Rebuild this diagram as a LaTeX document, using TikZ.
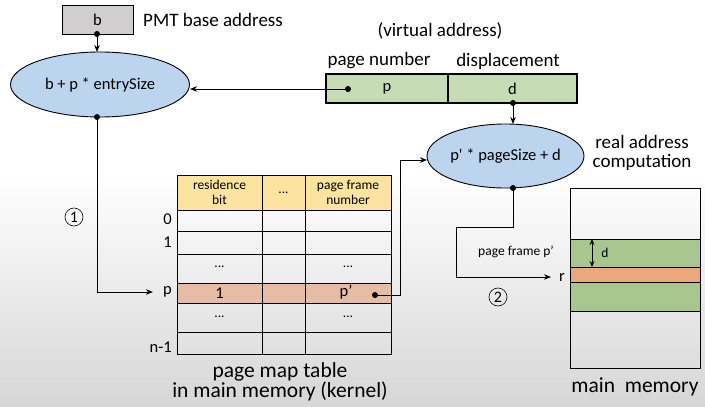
\documentclass[tikz,border=0pt]{standalone}
\usepackage{fontspec}
\setmainfont{Carlito}
\usetikzlibrary{arrows.meta,shapes.geometric}
\definecolor{boxgray}{HTML}{D0CECE}
\definecolor{ellblue}{HTML}{BDD4EE}
\definecolor{vagreen}{HTML}{C6DCB4}
\definecolor{hdryellow}{HTML}{FCE4A0}
\definecolor{rowsalmon}{HTML}{E6BCA2}
\definecolor{memgreen}{HTML}{A8C78E}
\definecolor{memorange}{HTML}{EAA87C}
\begin{document}
\begin{tikzpicture}
        [x=1pt,y=-1pt,
        every node/.style={inner sep=0pt},
        huge/.style={font=\fontsize{21.5}{24}\selectfont},
        big/.style={font=\fontsize{19}{22}\selectfont},
        mid/.style={font=\fontsize{16.5}{19}\selectfont},
        small/.style={font=\fontsize{13.5}{15}\selectfont},
        circnum/.style={circle,draw,line width=0.6pt,minimum size=18pt,font=\fontsize{16}{18}\selectfont},
        calc/.style={ellipse,draw,line width=0.9pt,fill=ellblue,mid},
        field/.style={rectangle,draw,line width=1.1pt,fill=vagreen,minimum height=29pt,mid},
        row/.style={rectangle,draw,line width=1pt,minimum width=214pt,anchor=north west},
        link/.style={line width=1pt,-{Stealth[length=7pt,width=5.5pt]}},
        dot/.style={circle,fill,minimum size=6pt}]
        \useasboundingbox (0,0) rectangle (705,407);
        % screen background
        \fill[white] (0,0) rectangle (705,407);
        \shade[top color=white, bottom color=black!16] (0,175) rectangle (705,407);

        % base register and first computation
        \node[rectangle,draw,line width=1pt,fill=boxgray,minimum width=71pt,minimum height=29pt,mid] (b) at (97.5,19.5) {b};
        \node[big,anchor=west] (pmt) at (143,20) {PMT base address};
        \node[calc,minimum width=179pt,minimum height=65pt] (e1) at (100,84.5) {b + p * entrySize};
        \node[dot] (bd) at (97,34) {};
        \draw[link] (bd.center) -- (97,52);

        % virtual address
        \node[big] (va) at (440,31) {(virtual address)};
        \node[big] (pn) at (379,61) {page number};
        \node[big] (dp) at (508,61) {displacement};
        \node[field,minimum width=122pt] (vp) at (387,88.5) {p};
        \node[field,minimum width=129pt] (vd) at (512.5,88.5) {d};
        \node[dot] (pd) at (348,89) {};
        \draw[link] (pd.center) -- (190,89);

        % second computation
        \node[calc,minimum width=157pt,minimum height=64pt] (e2) at (505.5,156) {p\textquotesingle{} * pageSize + d};
        \node[big,align=center] (rac) at (642,153) {real address\\[-3pt]computation};
        \node[dot] (dd) at (513,103) {};
        \draw[link] (dd.center) -- (513,124);

        % page map table
        \node[row,fill=hdryellow,minimum height=35pt] (hdr) at (177,175) {};
        \node[row,minimum height=21pt] (r0) at (177,210) {};
        \node[row,minimum height=23pt] (r1) at (177,231) {};
        \node[row,minimum height=29pt] (r2) at (177,254) {};
        \node[row,fill=rowsalmon,minimum height=20pt] (rp) at (177,283) {};
        \node[row,minimum height=29pt] (r4) at (177,303) {};
        \node[row,minimum height=22pt] (rn) at (177,332) {};
        \draw[line width=1pt] (262,175) -- (262,354);
        \draw[line width=1pt] (305,175) -- (305,354);
        \node[small,align=center] (h1) at (219.5,192.5) {residence\\bit};
        \node[small] (h2) at (283.5,193) {...};
        \node[small,align=center] (h3) at (348,192.5) {page frame\\number};
        \node[small] (c21) at (219.5,267) {...};
        \node[small] (c23) at (348,267) {...};
        \node[mid] (cp1) at (219.5,293) {1};
        \node[mid] (cp3) at (346,292) {p’};
        \node[small] (c41) at (219.5,317) {...};
        \node[small] (c43) at (348,317) {...};
        \node[mid,anchor=east] (l0) at (172,219) {0};
        \node[mid,anchor=east] (l1) at (172,242) {1};
        \node[mid,anchor=east] (lp) at (172,292) {p};
        \node[mid,anchor=east] (ln) at (172,347) {n-1};
        \node[huge,align=center] (pmtcap) at (280,382) {page map table\\[-4pt]in main memory (kernel)};

        \node[dot] (ed) at (97,117) {};
        \draw[link] (ed.center) |- ([xshift=-10pt]lp.west);
        \node[circnum] (s1) at (74,217) {1};

        \node[dot] (fd) at (375,295) {};
        \coordinate (k) at (400,160);
        \draw[link] (fd.center) -| (k) -- (427,160);

        % main memory
        \draw[line width=1pt] (570,188) rectangle (700,239);
        \draw[line width=1pt,fill=memgreen] (570,239) rectangle (700,267);
        \draw[line width=1pt,fill=memorange] (570,267) rectangle (700,282);
        \draw[line width=1pt,fill=memgreen] (570,282) rectangle (700,311);
        \draw[line width=1pt] (570,311) rectangle (700,368);
        \draw[line width=1pt,{Stealth[length=6pt,width=5pt]}-{Stealth[length=6pt,width=5pt]}] (592,239) -- (592,267);
        \node[small] (dl) at (605,253) {d};
        \node[huge] (mm) at (635,387) {main\ \ memory};

        \node[dot] (gd) at (513,188) {};
        \node[mid] (r) at (562,277) {r};
        \node[small] (pf) at (516,252) {page frame p’};
        \node[circnum] (s2) at (498,297) {2};
        \coordinate (t) at (456,227);
        \draw[link] (gd.center) |- (t) |- ([xshift=-8pt]r.west);
    \end{tikzpicture}
\end{document}
